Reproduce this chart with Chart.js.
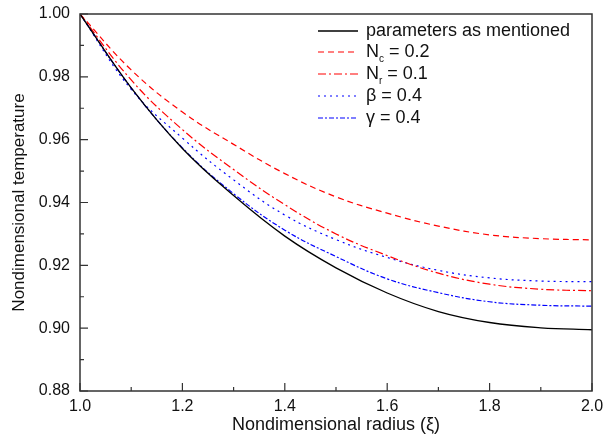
<!DOCTYPE html>
<html>
<head>
<meta charset="utf-8">
<title>Nondimensional temperature</title>
<script src="https://cdn.jsdelivr.net/npm/chart.js@4"></script>
<style>
    html, body { margin: 0; padding: 0; background: #ffffff; }
    #wrap { width: 608px; height: 441px; }
</style>
</head>
<body>
<div id="wrap"><canvas id="tempChart" width="608" height="441"></canvas></div>
<script>
// Data
const radius = [1.0, 1.1, 1.2, 1.3, 1.4, 1.5, 1.6, 1.7, 1.8, 1.9, 2.0];
const baseTemp  = [1.000, 0.9765, 0.9572, 0.9422, 0.9293, 0.9192, 0.9112, 0.9053, 0.9018, 0.9001, 0.8995];
const ncTemp    = [1.000, 0.9822, 0.9688, 0.9585, 0.9492, 0.9418, 0.9366, 0.9325, 0.9297, 0.9285, 0.9281];
const nrTemp    = [1.000, 0.9790, 0.9632, 0.9505, 0.9393, 0.9300, 0.9231, 0.9175, 0.9140, 0.9124, 0.9119];
const betaTemp  = [1.000, 0.9760, 0.9605, 0.9472, 0.9360, 0.9282, 0.9225, 0.9184, 0.9160, 0.9150, 0.9148];
const gammaTemp = [1.000, 0.9765, 0.9574, 0.9428, 0.9312, 0.9228, 0.9157, 0.9113, 0.9084, 0.9073, 0.9070];

const seriesLabels = ['parameters as mentioned', 'N_c = 0.2', 'N_r = 0.1', '\u03b2 = 0.4', '\u03b3 = 0.4'];
const xTicks = [1.0, 1.2, 1.4, 1.6, 1.8, 2.0];
const yTicks = [0.88, 0.90, 0.92, 0.94, 0.96, 0.98, 1.00];

const FONT = 'Liberation Sans, Arial, sans-serif';
const FRAME = '#333333';

// turn x / y arrays into point objects
function toPoints(ys) {
    return radius.map((x, i) => ({ x: x, y: ys[i] }));
}

// Frame around the plot + inward ticks (major and minor)
const framePlugin = {
    id: 'frame',
    afterDraw(chart) {
        const ctx = chart.ctx;
        const area = chart.chartArea;
        const xs = chart.scales.x;
        const ys = chart.scales.y;
        ctx.save();
        ctx.strokeStyle = FRAME;
        ctx.lineWidth = 1.5;
        ctx.strokeRect(area.left, area.top, area.right - area.left, area.bottom - area.top);

        ctx.lineWidth = 1.2;
        ctx.beginPath();
        // x ticks: major every 0.2, minor every 0.1
        for (let i = 0; i <= 10; i++) {
            const px = xs.getPixelForValue(1 + i * 0.1);
            const len = (i % 2 === 0) ? 8 : 4;
            ctx.moveTo(px, area.bottom);
            ctx.lineTo(px, area.bottom - len);
        }
        // y ticks: major every 0.02, minor every 0.01
        for (let i = 0; i <= 12; i++) {
            const py = ys.getPixelForValue(0.88 + i * 0.01);
            const len = (i % 2 === 0) ? 8 : 4;
            ctx.moveTo(area.left, py);
            ctx.lineTo(area.left + len, py);
        }
        ctx.stroke();
        ctx.restore();
    }
};

// Legend drawn inside the plot, with subscripts (N_c -> N + small c)
const legendPlugin = {
    id: 'innerLegend',
    afterDraw(chart) {
        const ctx = chart.ctx;
        const rowY = [31, 52, 74, 96, 118];
        const lineX0 = 318, lineX1 = 358, textX = 366;
        ctx.save();
        chart.data.datasets.forEach((ds, i) => {
            const y = rowY[i];
            // sample line
            ctx.strokeStyle = ds.borderColor;
            ctx.lineWidth = ds.borderWidth;
            ctx.setLineDash(ds.borderDash || []);
            ctx.beginPath();
            ctx.moveTo(lineX0, y);
            ctx.lineTo(lineX1, y);
            ctx.stroke();
            ctx.setLineDash([]);

            // label text
            ctx.fillStyle = '#111111';
            ctx.textBaseline = 'middle';
            ctx.textAlign = 'left';
            const label = ds.label;
            let x = textX;
            const m = label.match(/^(.*?)_(\w)(.*)$/);
            if (m) {
                ctx.font = '18px ' + FONT;
                ctx.fillText(m[1], x, y);
                x += ctx.measureText(m[1]).width;
                ctx.font = '10px ' + FONT;
                ctx.fillText(m[2], x, y + 7);
                x += ctx.measureText(m[2]).width;
                ctx.font = '18px ' + FONT;
                ctx.fillText(m[3], x, y);
            } else {
                ctx.font = '18px ' + FONT;
                ctx.fillText(label, x, y);
            }
        });
        ctx.restore();
    }
};

const ctx = document.getElementById('tempChart').getContext('2d');
const tempChart = new Chart(ctx, {
    type: 'line',
    data: {
        datasets: [
            { label: seriesLabels[0], data: toPoints(baseTemp),  borderColor: '#000000', borderWidth: 1.3, borderDash: [] },
            { label: seriesLabels[1], data: toPoints(ncTemp),    borderColor: '#ff0000', borderWidth: 1.2, borderDash: [6, 4] },
            { label: seriesLabels[2], data: toPoints(nrTemp),    borderColor: '#ff0000', borderWidth: 1.2, borderDash: [8, 3, 2, 3] },
            { label: seriesLabels[3], data: toPoints(betaTemp),  borderColor: '#0000ff', borderWidth: 1.2, borderDash: [2, 4] },
            { label: seriesLabels[4], data: toPoints(gammaTemp), borderColor: '#0000ff', borderWidth: 1.2, borderDash: [5, 2, 2, 2] }
        ]
    },
    options: {
        responsive: false,
        animation: false,
        layout: { padding: { left: 0, top: 14, right: 16, bottom: 0 } },
        elements: {
            point: { radius: 0 },
            line: { tension: 0.4, fill: false }
        },
        plugins: {
            legend: { display: false },
            tooltip: { enabled: false }
        },
        scales: {
            x: {
                type: 'linear',
                min: 1.0,
                max: 2.0,
                afterFit: (scale) => {
                    scale.height = 50;
                    scale.paddingLeft = 0;  // don't let end labels shrink the plot
                    scale.paddingRight = 0;
                },
                afterBuildTicks: (scale) => { scale.ticks = xTicks.map(v => ({ value: v })); },
                grid: { display: false, drawTicks: false },
                border: { display: false },
                ticks: {
                    color: '#111111',
                    font: { family: FONT, size: 16 },
                    padding: 6,
                    maxRotation: 0,
                    callback: (v) => v.toFixed(1)
                },
                title: {
                    display: true,
                    text: 'Nondimensional radius (\u03be)',
                    color: '#111111',
                    font: { family: FONT, size: 18 },
                    padding: { top: 0, bottom: 5 }
                }
            },
            y: {
                min: 0.88,
                max: 1.00,
                afterFit: (scale) => {
                    scale.width = 80;
                    scale.paddingTop = 0;
                    scale.paddingBottom = 0;
                },
                afterBuildTicks: (scale) => { scale.ticks = yTicks.map(v => ({ value: v })); },
                grid: { display: false, drawTicks: false },
                border: { display: false },
                ticks: {
                    color: '#111111',
                    font: { family: FONT, size: 16 },
                    padding: 10,
                    callback: (v) => v.toFixed(2)
                },
                title: {
                    display: true,
                    text: 'Nondimensional temperature',
                    color: '#111111',
                    font: { family: FONT, size: 17 },
                    padding: { top: 9, bottom: 0 }
                }
            }
        }
    },
    plugins: [framePlugin, legendPlugin]
});
</script>
</body>
</html>
